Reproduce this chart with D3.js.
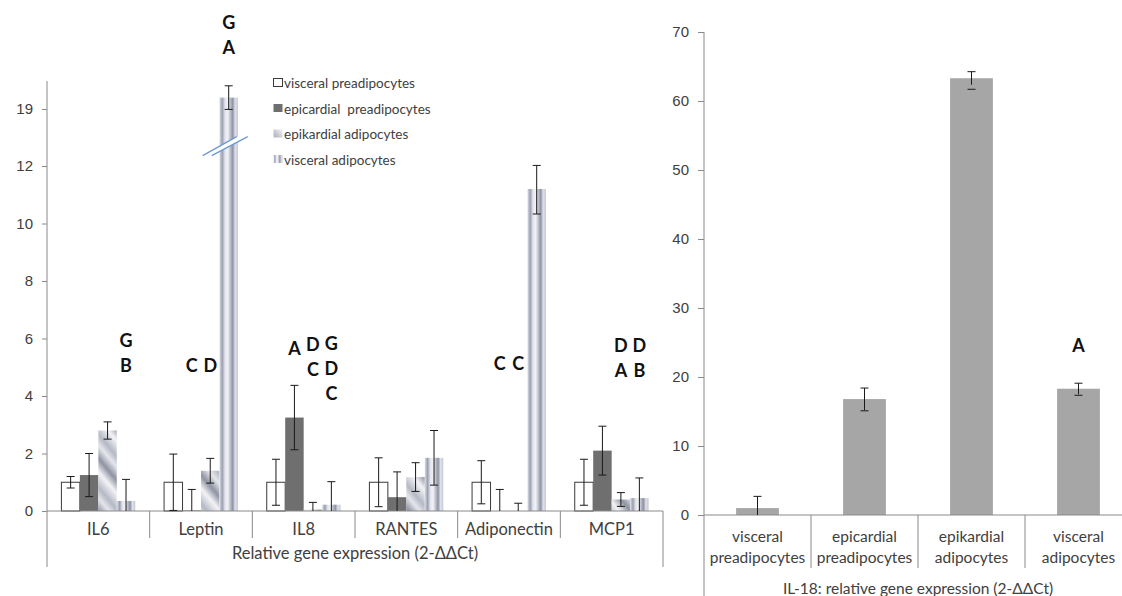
<!DOCTYPE html>
<html>
<head>
<meta charset="utf-8">
<script src="https://cdn.jsdelivr.net/npm/d3@7"></script>
<style>
  body { margin: 0; background: #fff; }
  svg { display: block; font-family: Lato, "Open Sans", sans-serif; }
  .tick text { fill: #404040; font-size: 15px; }
  .lbl { fill: #404040; font-size: 16.5px; }
  .lbl-r { fill: #404040; font-size: 15.5px; }
  .leg { fill: #404040; font-size: 13.5px; white-space: pre; }
  .letter { fill: #111; font-size: 18px; font-weight: bold; }
</style>
</head>
<body>
<svg id="chart" width="1122" height="596"></svg>
<script>
// left panel: relative gene expression
const categories = ['IL6', 'Leptin', 'IL8', 'RANTES', 'Adiponectin', 'MCP1'];
const seriesNames = ['visceral preadipocytes', 'epicardial  preadipocytes', 'epikardial adipocytes', 'visceral adipocytes'];
const visceralPre = [1.0, 1.0, 1.0, 1.0, 1.0, 1.0];
const visceralPreErr = [0.2, 0.98, 0.8, 0.85, 0.75, 0.8];
const epicardialPre = [1.25, 0.02, 3.25, 0.48, 0.0, 2.1];
const epicardialPreErr = [0.75, 0.73, 1.12, 0.88, 0.75, 0.85];
const epikardialAd = [2.8, 1.4, 0.05, 1.18, 0.0, 0.4];
const epikardialAdErr = [0.3, 0.43, 0.25, 0.5, 0.27, 0.24];
const visceralAd = [0.35, 20.4, 0.22, 1.85, 11.2, 0.45];
const visceralAdErr = [0.75, 1.45, 0.8, 0.95, 0.87, 0.7];
const yTicksLeft = [0, 2, 4, 6, 8, 10, 12, 19];
const breakValue = 14.5; // where the Leptin bar is cut

// significance letters: category, series index, letters top->bottom, level of bottom letter
const letters = [
  {cat: 'IL6', s: 3, txt: ['G', 'B'], level: 5.05},
  {cat: 'Leptin', s: 1, txt: ['C'], level: 5.05},
  {cat: 'Leptin', s: 2, txt: ['D'], level: 5.05},
  {cat: 'Leptin', s: 3, txt: ['G', 'A'], level: 26.5},
  {cat: 'IL8', s: 1, txt: ['A'], level: 5.65},
  {cat: 'IL8', s: 2, txt: ['D', 'C'], level: 4.9},
  {cat: 'IL8', s: 3, txt: ['G', 'D', 'C'], level: 4.07},
  {cat: 'Adiponectin', s: 1, txt: ['C'], level: 5.1},
  {cat: 'Adiponectin', s: 2, txt: ['C'], level: 5.1},
  {cat: 'MCP1', s: 2, txt: ['D', 'A'], level: 4.87},
  {cat: 'MCP1', s: 3, txt: ['D', 'B'], level: 4.87}
];

// right panel: IL-18
const il18Cats = [['visceral', 'preadipocytes'], ['epicardial', 'preadipocytes'], ['epikardial', 'adipocytes'], ['visceral', 'adipocytes']];
const il18Values = [1.0, 16.8, 63.3, 18.3];
const il18Err = [1.7, 1.6, 0.95, 0.8];
const il18Letters = [{i: 3, txt: 'A', level: 24.5}];

const svg = d3.select('#chart');
const defs = svg.append('defs');

// fills
const diag = defs.append('linearGradient').attr('id', 'diagGrad')
  .attr('x1', 0).attr('y1', 0).attr('x2', 1).attr('y2', 0);
[['0', '#b4b8c4'], ['0.3', '#f4f4f6'], ['0.55', '#8d92a2'], ['0.8', '#e6e7ec'], ['1', '#b4b8c4']]
  .forEach(s => diag.append('stop').attr('offset', s[0]).attr('stop-color', s[1]));
const pat = defs.append('pattern').attr('id', 'diagPat')
  .attr('patternUnits', 'userSpaceOnUse').attr('width', 34).attr('height', 34)
  .attr('patternTransform', 'rotate(-40)');
pat.append('rect').attr('width', 34).attr('height', 34).attr('fill', 'url(#diagGrad)');

const vert = defs.append('linearGradient').attr('id', 'vertGrad')
  .attr('x1', 0).attr('y1', 0).attr('x2', 1).attr('y2', 0);
[['0', '#dcdee6'], ['0.15', '#9a9fb0'], ['0.3', '#e4e5ec'], ['0.45', '#f2f2f6'], ['0.6', '#b7bbc8'],
 ['0.72', '#8e93a5'], ['0.85', '#dfe1e8'], ['1', '#c6c9d3']]
  .forEach(s => vert.append('stop').attr('offset', s[0]).attr('stop-color', s[1]));

const fills = ['#ffffff', '#6f6f6f', 'url(#diagPat)', 'url(#vertGrad)'];
const strokes = ['#3a3a3a', 'none', 'none', 'none'];

// ---------- left panel ----------
const x0 = d3.scaleBand().domain(categories).range([47, 663]);
const x1 = d3.scaleBand().domain(d3.range(4)).range([0, x0.bandwidth()]).paddingOuter(0.78);
const y = d3.scaleLinear().domain([0, 12, 19]).range([511, 166, 109]);

const values = [visceralPre, epicardialPre, epikardialAd, visceralAd];
const errs = [visceralPreErr, epicardialPreErr, epikardialAdErr, visceralAdErr];
const rows = [];
categories.forEach((c, i) => {
  values.forEach((v, s) => rows.push({cat: c, s: s, v: v[i], e: errs[s][i]}));
});

const left = svg.append('g');

// y axis
const yAxis = left.append('g').attr('transform', 'translate(47,0)')
  .call(d3.axisLeft(y).tickValues(yTicksLeft).tickSize(5).tickPadding(9).tickFormat(d3.format('d')));
yAxis.select('.domain').remove();
yAxis.selectAll('.tick line').attr('stroke', '#8a8a8a');

left.append('line').attr('x1', 47).attr('x2', 47).attr('y1', 81).attr('y2', 567).attr('stroke', '#8a8a8a');
left.append('line').attr('x1', 663).attr('x2', 663).attr('y1', y(0)).attr('y2', 567).attr('stroke', '#8a8a8a');
left.selectAll('.sep').data(categories.slice(1)).enter().append('line')
  .attr('x1', d => x0(d)).attr('x2', d => x0(d))
  .attr('y1', y(0)).attr('y2', 538).attr('stroke', '#8a8a8a');

// bars
left.selectAll('.bar').data(rows).enter().append('rect')
  .attr('x', d => x0(d.cat) + x1(d.s))
  .attr('width', x1.bandwidth())
  .attr('y', d => y(d.v))
  .attr('height', d => y(0) - y(d.v))
  .attr('fill', d => fills[d.s])
  .attr('stroke', d => strokes[d.s])
  .attr('stroke-width', 1);

// axis break on the Leptin bar
const bc = x0('Leptin') + x1(3) + x1.bandwidth() / 2;
const by = y(breakValue);
left.append('polygon')
  .attr('points', [[bc - 26, by + 10], [bc + 8, by - 9], [bc + 19, by - 9], [bc - 17, by + 10]].join(' '))
  .attr('fill', '#fff');
[[-26, 8], [-17, 19]].forEach(p => {
  left.append('line')
    .attr('x1', bc + p[0]).attr('y1', by + 10)
    .attr('x2', bc + p[1]).attr('y2', by - 9)
    .attr('stroke', '#6d97d4').attr('stroke-width', 1.2);
});

left.append('line').attr('x1', 47).attr('x2', 663).attr('y1', y(0)).attr('y2', y(0)).attr('stroke', '#8a8a8a');

// error bars
const eb = left.selectAll('.err').data(rows).enter().append('g')
  .attr('transform', d => `translate(${x0(d.cat) + x1(d.s) + x1.bandwidth() / 2},0)`);
eb.append('line').attr('y1', d => y(Math.max(0, d.v - d.e))).attr('y2', d => y(d.v + d.e))
  .attr('stroke', '#1a1a1a');
eb.append('line').attr('x1', -4).attr('x2', 4).attr('y1', d => y(d.v + d.e)).attr('y2', d => y(d.v + d.e))
  .attr('stroke', '#1a1a1a');
eb.filter(d => d.v - d.e > 0).append('line').attr('x1', -4).attr('x2', 4)
  .attr('y1', d => y(d.v - d.e)).attr('y2', d => y(d.v - d.e)).attr('stroke', '#1a1a1a');

// category labels
left.selectAll('.cl').data(categories).enter().append('text').attr('class', 'lbl')
  .attr('x', d => x0(d) + x0.bandwidth() / 2).attr('y', 535)
  .attr('text-anchor', 'middle').text(d => d);
left.append('text').attr('class', 'lbl').attr('x', 355).attr('y', 559)
  .attr('text-anchor', 'middle').text('Relative gene expression (2-ΔΔCt)');

// letters
letters.forEach(a => {
  const cx = x0(a.cat) + x1(a.s) + x1.bandwidth() / 2;
  const n = a.txt.length;
  a.txt.forEach((t, k) => {
    left.append('text').attr('class', 'letter')
      .attr('x', cx).attr('y', y(a.level) - (n - 1 - k) * 25 + 6)
      .attr('text-anchor', 'middle').text(t);
  });
});

// legend
const legend = left.append('g').attr('transform', 'translate(273,83)');
seriesNames.forEach((name, i) => {
  const g = legend.append('g').attr('transform', `translate(0,${i * 25.5})`);
  g.append('rect').attr('x', 0.5).attr('y', -4.5).attr('width', 9).attr('height', 8)
    .attr('fill', fills[i]).attr('stroke', i === 0 ? '#3a3a3a' : 'none');
  g.append('text').attr('class', 'leg').attr('x', 11).attr('y', 5).text(name);
});

// ---------- right panel ----------
const xr = d3.scaleBand().domain(d3.range(4)).range([704, 1132]).paddingInner(0.6).paddingOuter(0.3);
const yr = d3.scaleLinear().domain([0, 70]).range([515, 32]);
const right = svg.append('g');

const yrAxis = right.append('g').attr('transform', 'translate(704,0)')
  .call(d3.axisLeft(yr).ticks(7).tickSize(6).tickPadding(9));
yrAxis.select('.domain').remove();
yrAxis.selectAll('.tick line').attr('stroke', '#8a8a8a');
right.append('line').attr('x1', 704).attr('x2', 704).attr('y1', 32).attr('y2', 596).attr('stroke', '#8a8a8a');

right.selectAll('.bar').data(il18Values).enter().append('rect')
  .attr('x', (d, i) => xr(i)).attr('width', xr.bandwidth())
  .attr('y', d => yr(d)).attr('height', d => yr(0) - yr(d))
  .attr('fill', '#a6a6a6');

right.append('line').attr('x1', 704).attr('x2', 1122).attr('y1', yr(0)).attr('y2', yr(0)).attr('stroke', '#8a8a8a');
const stepR = xr.step();
right.selectAll('.sep').data([1, 2, 3]).enter().append('line')
  .attr('x1', d => 704 + d * stepR).attr('x2', d => 704 + d * stepR)
  .attr('y1', yr(0)).attr('y2', 568).attr('stroke', '#8a8a8a');

const ebr = right.selectAll('.err').data(il18Values).enter().append('g')
  .attr('transform', (d, i) => `translate(${xr(i) + xr.bandwidth() / 2},0)`);
ebr.append('line').attr('y1', (d, i) => yr(Math.max(0, d - il18Err[i]))).attr('y2', (d, i) => yr(d + il18Err[i]))
  .attr('stroke', '#1a1a1a');
ebr.append('line').attr('x1', -4).attr('x2', 4)
  .attr('y1', (d, i) => yr(d + il18Err[i])).attr('y2', (d, i) => yr(d + il18Err[i])).attr('stroke', '#1a1a1a');
ebr.filter((d, i) => d - il18Err[i] > 0).append('line').attr('x1', -4).attr('x2', 4)
  .attr('y1', (d, i) => yr(d - il18Err[i])).attr('y2', (d, i) => yr(d - il18Err[i])).attr('stroke', '#1a1a1a');

il18Cats.forEach((c, i) => {
  const t = right.append('text').attr('class', 'lbl-r').attr('text-anchor', 'middle')
    .attr('x', xr(i) + xr.bandwidth() / 2);
  c.forEach((line, k) => t.append('tspan').attr('x', xr(i) + xr.bandwidth() / 2).attr('y', 542 + k * 20.5).text(line));
});
right.append('text').attr('class', 'lbl-r').attr('x', 918).attr('y', 594)
  .attr('text-anchor', 'middle').text('IL-18: relative gene expression (2-ΔΔCt)');

il18Letters.forEach(a => {
  right.append('text').attr('class', 'letter')
    .attr('x', xr(a.i) + xr.bandwidth() / 2).attr('y', yr(a.level) + 6)
    .attr('text-anchor', 'middle').text(a.txt);
});
</script>
</body>
</html>
